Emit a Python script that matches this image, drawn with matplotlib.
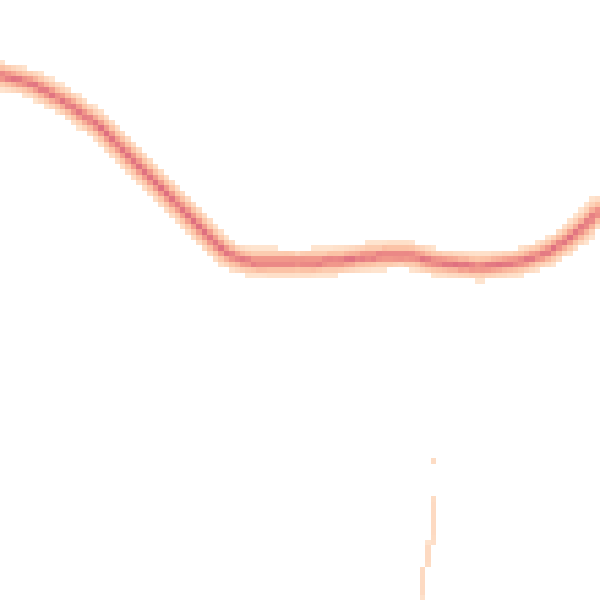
import numpy as np
import matplotlib
matplotlib.use('Agg')
import matplotlib.pyplot as plt
from matplotlib.colors import LinearSegmentedColormap

# centre line of the dense band (pixel coords, y going down)
curve_x = [0, 33, 67, 100, 133, 157, 193, 212, 225, 238, 250, 300, 340, 367, 400, 413, 433, 480, 520, 547, 567, 583, 600]
curve_y = [75, 84, 103, 127, 160, 184, 220, 240, 252, 259, 262, 263, 261, 257, 255, 256, 262, 267, 262, 253, 240, 227, 210]

# faint vertical streak near the bottom
streak_x = [433, 433, 433, 433, 428, 425, 424]
streak_y = [458, 500, 520, 538, 550, 570, 598]

n_bins = 110
half_width = 13.0

# build points along the band
xs = np.arange(0, 600, 0.5)
ys = np.interp(xs, curve_x, curve_y)
ys = np.convolve(np.pad(ys, 10, mode='edge'), np.ones(21) / 21, mode='valid')
slope = np.gradient(ys, xs)
ds = np.sqrt(1 + slope ** 2)

offs = np.linspace(-1, 1, 21)
prof = 0.55 * np.exp(-offs ** 2 / (2 * 0.45 ** 2)) + 0.45 * np.exp(-offs ** 2 / (2 * 0.12 ** 2))

px, py, pw = [], [], []
for o, w in zip(offs, prof):
    px.append(xs)
    py.append(ys + o * half_width * ds)
    pw.append(w * ds)

# streak points
sy = np.arange(streak_y[0], streak_y[-1], 0.5)
sx = np.interp(sy, streak_y, streak_x)
mask = ~((sy > 463) & (sy < 497))
px.append(sx[mask])
py.append(sy[mask])
pw.append(np.full(mask.sum(), 0.4))

px = np.concatenate(px)
py = np.concatenate(py)
pw = np.concatenate(pw)

cmap = LinearSegmentedColormap.from_list('band', ['#fee4cf', '#fcc6a8', '#f4a08e', '#ee9088', '#df6f80'])

fig = plt.figure(figsize=(6, 6), dpi=100)
ax = fig.add_axes([0, 0, 1, 1])
h = ax.hist2d(px, py, bins=n_bins, range=[[0, 600], [0, 600]], weights=pw,
              cmap=cmap, cmin=1.2, vmin=1.2)
ax.set_xlim(0, 600)
ax.set_ylim(600, 0)
ax.axis('off')
fig.savefig('out.png', dpi=100)
